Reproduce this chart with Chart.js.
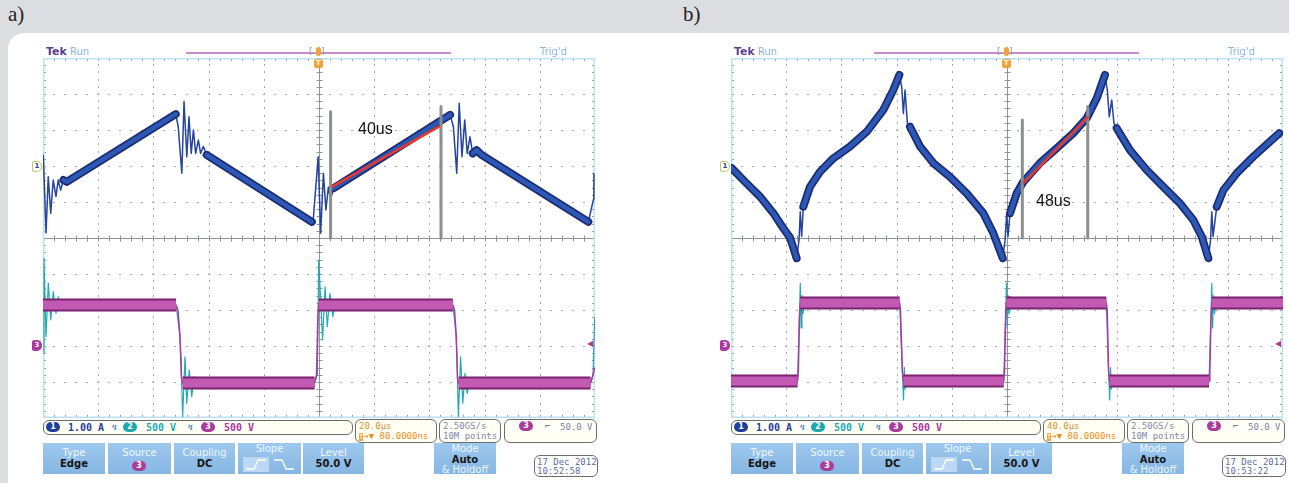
<!DOCTYPE html>
<html lang="en">
<head>
  <meta charset="UTF-8" />
  <title>Scope captures a) b)</title>
  <style>
    body { margin: 0; width: 1289px; height: 483px; overflow: hidden; background: #dcdde0; font-family: "DejaVu Sans", sans-serif; }
    #panel { position: absolute; left: 8px; top: 33px; width: 1310px; height: 480px; background: #fff; border-radius: 16px; }
    .lbl { position: absolute; top: 2px; font: 21px "Liberation Serif", serif; color: #222; }
    .scope { position: absolute; top: 0; width: 560px; height: 483px; }
    .scope canvas { position: absolute; left: 0; top: 58px; }
    .abs { position: absolute; white-space: nowrap; }
    .oval { position: absolute; width: 14px; height: 10px; border-radius: 5px; color: #fff; font: bold 8px/10px "DejaVu Sans", sans-serif; text-align: center; }
    .box { position: absolute; border: 1px solid #6d6d6d; border-radius: 6px; background: #fffff6; font: 9px/10px "DejaVu Sans Mono", monospace; }
    .btn { position: absolute; top: 443px; height: 31px; background: linear-gradient(#9dc8ee, #86b6e2); text-align: center; font: 10px "DejaVu Sans", sans-serif; color: #eef6ff; }
    .btn b { display: block; color: #151515; font: bold 10px "DejaVu Sans", sans-serif; }
    .note { position: absolute; font: 16px "Liberation Sans", Arial, sans-serif; color: #111; }
  </style>
</head>
<body>
  <div class="lbl" style="left:8px">a)</div>
  <div class="lbl" style="left:683px">b)</div>
  <div id="panel"></div>
  <div class="scope" id="wrapA" style="left:43px"><canvas id="scopeA" width="552" height="360"></canvas></div>
  <div class="scope" id="wrapB" style="left:731px"><canvas id="scopeB" width="552" height="360"></canvas></div>
  <div class="note" style="left:358px;top:120px">40us</div>
  <div class="note" style="left:1036px;top:192px">48us</div>

  <script src="https://cdn.jsdelivr.net/npm/chart.js@4.4.0/dist/chart.umd.min.js"></script>
  <script>
    // ---- a) 20 us/div ----
    const ch1aTime = [0.1, 1.1, 1.9, 2.8, 3.7, 4.7, 5.5, 6.4, 7.4, 8.6, 48.1, 49.0, 50.3, 51.1, 52.1, 52.9, 53.7, 54.5, 55.3, 56.3, 57.1, 58.1, 59.3,
      97.4, 97.9, 99.7, 100.6, 101.6, 102.5, 103.4, 104.2, 105.2, 147.5, 148.7, 149.9, 150.8, 151.8, 152.8, 153.7, 154.7, 155.7, 157.1, 158.9,
      197.6, 199.4, 199.6];
    const ch1aAmps = [0.31, -1.86, -0.30, -1.31, -0.39, -0.85, -0.39, -0.67, -0.39, -0.44, 1.44, 1.09, -0.20, 1.79, 0.26, 1.37, 0.35, 1.00, 0.35, 0.72, 0.35, 0.54, 0.31,
      -1.55, -1.50, 0.26, -1.87, -0.20, -1.22, -0.58, -0.94, -0.62, 1.42, 1.09, -0.20, 1.74, 0.26, 1.28, 0.35, 0.81, 0.35, 0.44, 0.31,
      -1.55, -0.94, -0.20];
    const ch3aTime = [0, 48.2, 48.9, 49.6, 50.2, 50.6, 98.4, 99.1, 99.6, 99.9, 148.5, 149.1, 149.7, 150.2, 150.6, 198.4, 199.3, 199.8];
    const ch3aVolts = [569, 569, 500, 150, -450, -514, -514, -400, 400, 569, 569, 500, 150, -450, -514, -514, -400, -300];
    const ch2aTime = [0.1, 0.36, 1.09, 1.92, 2.79, 3.73, 4.71, 5.54, 6.41, 7.36, 8.5, 48.2, 49.6, 50.0, 50.6, 51.45, 52.07, 53.0, 53.9, 54.7, 55.7, 56.8,
      98.4, 99.4, 99.9, 101.3, 102.2, 103.0, 104.0, 105.0, 105.8, 107, 148.5, 149.7, 150.0, 150.5, 151.3, 152.1, 152.9, 153.7, 154.7, 156, 198.4, 199.3, 199.9];
    const ch2aVolts = [-101, 1218, 129, 871, 361, 754, 454, 685, 500, 615, 569, 569, 150, -200, -982, -149, -796, -333, -704, -426, -588, -514,
      -514, -400, 1194, 83, 824, 268, 732, 407, 615, 569, 569, 150, -200, -982, -149, -796, -379, -657, -472, -514, -514, -400, 403];
    const redaTime = [104.6, 143.8];
    const redaAmps = [-0.58, 1.11];
    const cursorsaTime = [104.2, 144.2];
    const cursorsaTop = [1.51, 1.65];

    // ---- b) 40 us/div ----
    const ch1bTime = [0.5, 8.9, 21.0, 30.7, 37.9, 42.8, 47.6, 49.3, 50.2, 51.2, 52.4, 57.2, 64.5, 74.1, 86.2, 98.3, 110.4, 117.6, 122.0, 123.7, 124.9, 126.1,
      127.8, 129.7, 137.0, 146.6, 158.7, 170.8, 182.8, 190.1, 196.9, 198.6, 199.8, 200.7, 202.2, 207.0, 211.8, 223.9, 236.0, 248.0, 257.8, 265.0,
      271.0, 272.7, 274.1, 275.9, 277.5, 279.5, 289.1, 301.2, 313.3, 325.4, 335.0, 341.1, 345.9, 347.5, 348.4, 349.3, 352.0, 356.8, 366.5, 378.5, 390.6, 397.3];
    const ch1bAmps = [-0.06, -0.39, -0.85, -1.31, -1.73, -1.99, -2.56, -2.06, -1.27, -1.96, -1.13, -0.58, -0.16, 0.21, 0.54, 0.95, 1.56, 2.11, 2.53, 2.20, 1.46, 2.11,
      1.19, 1.09, 0.54, 0.08, -0.30, -0.76, -1.31, -1.87, -2.56, -2.06, -1.31, -1.96, -1.31, -0.76, -0.44, 0.08, 0.49, 0.91, 1.33, 1.88,
      2.53, 2.11, 1.37, 1.83, 1.19, 1.05, 0.44, -0.11, -0.58, -1.04, -1.50, -1.96, -2.56, -2.06, -1.27, -1.96, -1.13, -0.67, -0.20, 0.26, 0.68, 0.91];
    const ch3bTime = [0, 48.2, 48.8, 49.6, 50.1, 122.2, 122.8, 124.2, 124.9, 197.6, 198.2, 199.0, 199.5, 272.0, 272.6, 273.6, 274.3, 346.4, 347.0, 347.8, 348.4, 400];
    const ch3bVolts = [-486, -486, -350, 400, 597, 597, 500, -350, -486, -486, -350, 400, 597, 597, 500, -350, -486, -486, -350, 400, 597, 597];
    const ch2bTime = [0, 48.2, 49.6, 50.2, 50.8, 51.4, 52.2, 53.2, 122.2, 124.2, 125.0, 125.6, 126.3, 127.3, 197.6, 199.0, 199.6, 200.2, 200.8, 201.6, 202.6,
      272.0, 273.6, 274.4, 275.0, 275.7, 276.7, 346.4, 347.8, 348.4, 349.0, 349.6, 350.4, 351.4, 400];
    const ch2bVolts = [-486, -486, 400, 871, 250, 700, 450, 597, 597, -350, -750, -300, -600, -486, -486, 400, 871, 250, 700, 450, 597,
      597, -350, -750, -300, -600, -486, -486, 400, 871, 250, 700, 450, 597, 597];
    const redbTime = [211.8, 259.0];
    const redbAmps = [-0.48, 1.37];
    const cursorsbTime = [211.1, 258.5];
    const cursorsbTop = [1.28, 1.65];

    const zip = (xs, ys) => xs.map((x, i) => ({ x: x, y: ys[i] }));

    // thick noise band only on the slow parts of a trace, not on the ringing
    function band(color, flatRatio, steepRatio, minDx) {
      return ctx => {
        const dx = Math.abs(ctx.p1.x - ctx.p0.x), dy = Math.abs(ctx.p1.y - ctx.p0.y);
        const slow = dy <= flatRatio * dx || (dx >= minDx && dy <= steepRatio * dx);
        return slow ? color : 'rgba(0,0,0,0)';
      };
    }

    const graticule = {
      id: 'graticule',
      beforeDatasetsDraw(chart, args, opts) {
        const ctx = chart.ctx, xs = chart.scales.x, ys = chart.scales.yI;
        const px = k => xs.getPixelForValue(xs.min + k * opts.xDiv);
        const py = k => ys.getPixelForValue(ys.max - k);
        const L = px(0), R = px(10), T = py(0), B = py(10);
        ctx.save();
        ctx.fillStyle = '#a2a9ae';
        for (let i = 1; i < 10; i++) {
          if (i === 5) continue;
          const x = Math.round(px(i)), y = Math.round(py(i));
          for (let j = 1; j < 50; j++) {
            ctx.fillRect(x, Math.round(py(j / 5)) - 1, 1, 2);
            ctx.fillRect(Math.round(px(j / 5)) - 1, y, 2, 1);
          }
        }
        const cx = Math.round(px(5)) + 0.5, cy = Math.round(py(5)) + 0.5;
        ctx.strokeStyle = '#8f9498';
        ctx.lineWidth = 1;
        ctx.beginPath();
        ctx.moveTo(L, cy); ctx.lineTo(R, cy);
        ctx.moveTo(cx, T); ctx.lineTo(cx, B);
        for (let j = 1; j < 50; j++) {
          const x = Math.round(px(j / 5)) + 0.5, y = Math.round(py(j / 5)) + 0.5;
          ctx.moveTo(x, cy - 3); ctx.lineTo(x, cy + 3);
          ctx.moveTo(cx - 3, y); ctx.lineTo(cx + 3, y);
          ctx.moveTo(x, T); ctx.lineTo(x, T + 3);
          ctx.moveTo(x, B); ctx.lineTo(x, B - 3);
          ctx.moveTo(L, y); ctx.lineTo(L + 3, y);
          ctx.moveTo(R, y); ctx.lineTo(R - 3, y);
        }
        ctx.stroke();
        ctx.strokeStyle = '#bcdff4';
        ctx.lineWidth = 1.5;
        ctx.strokeRect(L + 0.75, T + 0.75, R - L - 1.5, B - T - 1.5);
        ctx.restore();
      }
    };

    function makeScope(id, d) {
      const line = (data, axis, color, width, order, extra) => Object.assign({
        data: data, yAxisID: axis, borderColor: color, borderWidth: width, order: order,
        pointRadius: 0, tension: 0, fill: false, borderJoinStyle: 'round', borderCapStyle: 'butt'
      }, extra || {});
      const ch1 = zip(d.ch1t, d.ch1y), ch3 = zip(d.ch3t, d.ch3y);
      const bars = [];
      d.curT.forEach((t, i) => bars.push(line([{ x: t, y: d.curTop[i] }, { x: t, y: -2 }], 'yI', '#8b908d', 3, 1)));
      new Chart(document.getElementById(id), {
        type: 'line',
        data: {
          datasets: [
            line(zip(d.redT, d.redY), 'yI', '#e8392c', 2.5, 0),
            ...bars,
            line(ch1, 'yI', '#2d58b4', 4.5, 2, { borderCapStyle: 'round', segment: { borderColor: band('#2d58b4', 1.2, 4, 4.5) } }),
            line(ch1, 'yI', '#1b2c76', 8, 3, { borderCapStyle: 'round', segment: { borderColor: band('#1b2c76', 1.2, 4, 4.5) } }),
            line(ch1, 'yI', '#26449c', 1.5, 4),
            line(ch3, 'yV', '#c25ab4', 9, 5, { segment: { borderColor: band('#c25ab4', 1, 1, 0) } }),
            line(ch3, 'yV', '#7c2270', 13, 6, { segment: { borderColor: band('#7c2270', 1, 1, 0) } }),
            line(ch3, 'yV', '#ac3a9e', 1.5, 7),
            line(zip(d.ch2t, d.ch2y), 'yV', '#22aab4', 1.2, 8)
          ]
        },
        options: {
          responsive: false,
          animation: false,
          events: [],
          layout: { padding: 0 },
          plugins: { legend: { display: false }, tooltip: { enabled: false }, graticule: { xDiv: d.xDiv } },
          scales: {
            x: { type: 'linear', min: 0, max: d.xDiv * 10, display: false },
            yI: { type: 'linear', position: 'left', min: -7, max: 3, display: false },
            yV: { type: 'linear', position: 'right', min: -1000, max: 4000, display: false }
          }
        },
        plugins: [graticule]
      });
    }

    makeScope('scopeA', { xDiv: 20, ch1t: ch1aTime, ch1y: ch1aAmps, ch3t: ch3aTime, ch3y: ch3aVolts, ch2t: ch2aTime, ch2y: ch2aVolts,
      redT: redaTime, redY: redaAmps, curT: cursorsaTime, curTop: cursorsaTop });
    makeScope('scopeB', { xDiv: 40, ch1t: ch1bTime, ch1y: ch1bAmps, ch3t: ch3bTime, ch3y: ch3bVolts, ch2t: ch2bTime, ch2y: ch2bVolts,
      redT: redbTime, redY: redbAmps, curT: cursorsbTime, curTop: cursorsbTop });

    // scope screen furniture around the graticule
    function furniture(wrapId, timeDiv, stamp) {
      const w = document.getElementById(wrapId);
      const oval = (x, y, bg, n) => `<div class="oval" style="left:${x}px;top:${y}px;background:${bg}">${n}</div>`;
      const edge = (up, lit) => `<svg width="26" height="15" style="position:absolute;left:${up ? 5 : 33}px;top:14px;background:${lit ? '#bcd8f2' : 'transparent'}">
        <polyline points="${up ? '3,12 11,12 15,3 23,3' : '3,3 11,3 15,12 23,12'}" fill="none" stroke="#fff" stroke-width="1.3"/></svg>`;
      w.insertAdjacentHTML('beforeend', `
        <div class="abs" style="left:3px;top:45px;font:10px 'DejaVu Sans',sans-serif"><b style="color:#5a3f8e;font-size:11px">Tek</b> <span style="color:#86b6e4">Run</span></div>
        <div class="abs" style="left:143px;top:52px;width:265px;height:1.5px;background:#c98ccb"></div>
        <div class="abs" style="left:266px;top:46px;font:9px 'DejaVu Sans';color:#9a9a9a">[&nbsp;&nbsp;&nbsp;]</div>
        <div class="abs" style="left:273px;top:47px;width:5px;height:9px;border-radius:3px;background:#f2a33a"></div>
        <div class="abs" style="left:271px;top:59px;width:9px;height:9px;border-radius:2px;background:#f2a33a;color:#fff;font:bold 7px/9px 'DejaVu Sans';text-align:center">T</div>
        <div class="abs" style="left:497px;top:46px;font:10px 'DejaVu Sans',sans-serif;color:#86b6e4">Trig'd</div>
        <div class="abs" style="left:-11px;top:161px;width:8px;height:9px;border:1px solid #c4c46a;border-radius:2px 5px 5px 2px;background:#fff;color:#2a48a0;font:bold 7px/9px 'DejaVu Sans';text-align:center">1</div>
        <div class="abs" style="left:-11px;top:340px;width:10px;height:11px;border-radius:2px 5px 5px 2px;background:#ac3a9e;color:#fff;font:bold 7px/11px 'DejaVu Sans';text-align:center">3</div>
        <div class="abs" style="left:544px;top:339px;font:8px 'DejaVu Sans';color:#ac3a9e">&#9664;</div>

        <div class="box" style="left:0;top:420px;width:308px;height:13px;font:bold 10px/10px 'DejaVu Sans Mono',monospace">
          ${oval(2, 1, '#1f3f9a', '1')}<span class="abs" style="left:24px;top:2px;color:#1f3f9a">1.00 A</span>
          <span class="abs" style="left:68px;top:2px;color:#3a80c0;font-size:8px">&#8623;</span>
          ${oval(79, 1, '#1fa8b4', '2')}<span class="abs" style="left:102px;top:2px;color:#1fa8b4">500 V</span>
          <span class="abs" style="left:144px;top:2px;color:#3a80c0;font-size:8px">&#8623;</span>
          ${oval(157, 1, '#ac3a9e', '3')}<span class="abs" style="left:180px;top:2px;color:#ac3a9e">500 V</span>
        </div>
        <div class="box" style="left:312px;top:419px;width:80px;height:22px;color:#d7932e">
          <span class="abs" style="left:3px;top:1px">${timeDiv}</span>
          <span class="abs" style="left:3px;top:11px;color:#f08c1c"><span style="background:#f2a33a;color:#fff;font-size:7px">T</span>&#8594;&#9660; 80.0000ns</span>
        </div>
        <div class="box" style="left:396px;top:419px;width:60px;height:22px;color:#7d86ab">
          <span class="abs" style="left:3px;top:1px">2.50GS/s</span>
          <span class="abs" style="left:3px;top:11px">10M points</span>
        </div>
        <div class="box" style="left:461px;top:419px;width:91px;height:22px;color:#7d86ab">
          ${oval(14, 1, '#ac3a9e', '3')}<span class="abs" style="left:40px;top:1px;color:#555">&#8976;</span>
          <span class="abs" style="left:55px;top:2px">50.0 V</span>
        </div>

        <div class="btn" style="left:0;width:62px"><div style="margin-top:4px">Type</div><b>Edge</b></div>
        <div class="btn" style="left:65px;width:63px"><div style="margin-top:4px">Source</div>${oval(24, 18, '#ac3a9e', '3')}</div>
        <div class="btn" style="left:131px;width:61px"><div style="margin-top:4px">Coupling</div><b>DC</b></div>
        <div class="btn" style="left:195px;width:63px"><div style="margin-top:0">Slope</div>${edge(true, true)}${edge(false, false)}</div>
        <div class="btn" style="left:260px;width:61px"><div style="margin-top:4px">Level</div><b>50.0 V</b></div>
        <div class="btn" style="left:391px;width:62px;line-height:10px"><div style="margin-top:1px">Mode</div><b style="margin:0">Auto</b><div>&amp; Holdoff</div></div>
        <div class="box" style="left:491px;top:455px;width:62px;height:20px;background:#fff;color:#5b6d9c">
          <span class="abs" style="left:2px;top:1px">17 Dec 2012</span>
          <span class="abs" style="left:2px;top:10px">${stamp}</span>
        </div>`);
    }
    furniture('wrapA', '20.0&micro;s', '10:52:58');
    furniture('wrapB', '40.0&micro;s', '10:53:22');
  </script>
</body>
</html>
